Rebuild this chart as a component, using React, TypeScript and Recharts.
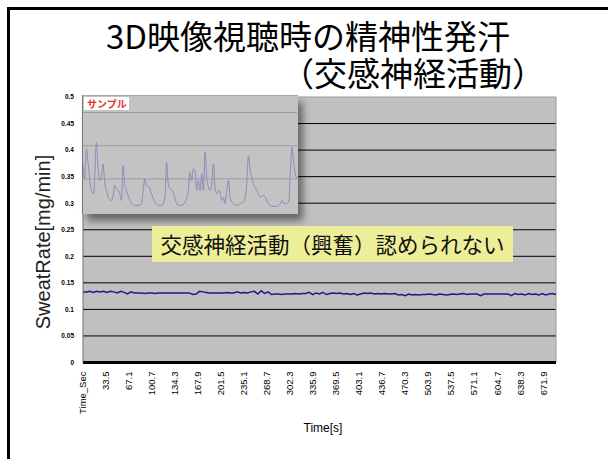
import { LineChart, Line, XAxis, YAxis, CartesianGrid, ReferenceLine } from 'recharts'

// main chart: sweat rate [mg/min] sampled every 5 s
const yTicks = [0, 0.05, 0.1, 0.15, 0.2, 0.25, 0.3, 0.35, 0.4, 0.45, 0.5]
const gridValues = [0.05, 0.1, 0.15, 0.2, 0.25, 0.3, 0.35, 0.4, 0.45]
const xTicks = [
  0, 33.5, 67.1, 100.7, 134.3, 167.9, 201.5, 235.1, 268.7, 302.3, 335.9,
  369.5, 403.1, 436.7, 470.3, 503.9, 537.5, 571.1, 604.7, 638.3, 671.9,
]
const sampleStep = 5
const sweatRate = [
  0.133, 0.133, 0.134, 0.132, 0.134, 0.133, 0.134, 0.132, 0.134, 0.133, 0.131, 0.134, 0.132, 0.129, 0.133,
  0.131, 0.131, 0.131, 0.13, 0.131, 0.131, 0.13, 0.131, 0.131, 0.131, 0.131, 0.131, 0.131, 0.131, 0.131, 0.131, 0.131,
  0.128, 0.129, 0.134, 0.133, 0.132,
  0.131, 0.131, 0.131, 0.131, 0.131, 0.132, 0.131, 0.131, 0.133, 0.131, 0.132, 0.131, 0.133,
  0.134, 0.129, 0.135, 0.13, 0.133, 0.128,
  0.129, 0.129, 0.128, 0.129, 0.129, 0.129, 0.13, 0.129, 0.13, 0.13,
  0.132, 0.128, 0.131, 0.129, 0.132, 0.128, 0.13, 0.131, 0.13, 0.131, 0.129, 0.13,
  0.128, 0.13, 0.127, 0.129, 0.131, 0.13, 0.131, 0.129, 0.13, 0.129, 0.13, 0.129, 0.129,
  0.13, 0.127, 0.128, 0.126, 0.129, 0.127,
  0.128, 0.127, 0.128, 0.128, 0.129, 0.128, 0.127, 0.129, 0.128, 0.127, 0.128, 0.129, 0.128, 0.129,
  0.13, 0.128, 0.129, 0.129, 0.129, 0.126, 0.129, 0.129, 0.129, 0.129, 0.129, 0.129, 0.129, 0.129,
  0.126, 0.13, 0.128, 0.129, 0.127, 0.13, 0.128, 0.129, 0.127, 0.13, 0.127, 0.129, 0.13, 0.128,
]

// inset "サンプル" trace
const insetTime = [
  0, 5, 10, 15, 20, 25, 32, 40, 45, 50, 55, 60, 65, 70, 78, 85, 90, 95, 100, 105,
  110, 115, 120, 125, 130, 138, 145, 155, 165, 175, 180, 185, 190, 198, 205, 215, 225, 235, 245, 250,
  255, 260, 268, 275, 285, 295, 305, 315, 320, 325, 330, 335, 340, 345, 350, 355, 360, 365, 370, 375,
  380, 385, 390, 395, 400, 408, 415, 420, 425, 430, 435, 440, 450, 460, 470, 480, 488, 495, 500, 505,
  510, 520, 530, 540, 545, 555, 565, 580, 590, 595, 600, 605, 615, 620, 625, 630, 635, 640,
]
const insetRate = [
  0.145, 0.1, 0.19, 0.15, 0.1, 0.065, 0.055, 0.21, 0.135, 0.095,
  0.105, 0.145, 0.09, 0.065, 0.04, 0.035, 0.05, 0.08, 0.07, 0.065,
  0.055, 0.035, 0.14, 0.08, 0.065, 0.04, 0.025, 0.02, 0.02, 0.025,
  0.065, 0.1, 0.08, 0.075, 0.055, 0.03, 0.02, 0.02, 0.045, 0.15,
  0.085, 0.07, 0.065, 0.04, 0.02, 0.02, 0.03, 0.065, 0.12, 0.095,
  0.13, 0.125, 0.065, 0.095, 0.065, 0.115, 0.065, 0.18, 0.105, 0.075,
  0.065, 0.085, 0.145, 0.075, 0.055, 0.065, 0.035, 0.045, 0.025, 0.065,
  0.095, 0.045, 0.025, 0.02, 0.025, 0.03, 0.065, 0.17, 0.125, 0.105,
  0.085, 0.065, 0.045, 0.05, 0.045, 0.025, 0.017, 0.017, 0.025, 0.035,
  0.025, 0.025, 0.03, 0.115, 0.195, 0.15, 0.115, 0.1,
]
const insetGrid = [0.05, 0.1, 0.15, 0.2, 0.25, 0.3]

const mainData = sweatRate.map((rate, i) => ({ t: i * sampleStep, rate }))
const insetData = insetTime.map((t, i) => ({ t, rate: insetRate[i] }))

const jp = '"Noto Sans CJK JP", sans-serif'

function TimeTick({ x, y, payload }: any) {
  const label = payload.value === 0 ? 'Time_Sec' : String(payload.value)
  const tx = x + 3
  const ty = y + 1
  return (
    <text
      x={tx}
      y={ty}
      transform={`rotate(-90 ${tx} ${ty})`}
      textAnchor="end"
      fontSize={9.5}
      fontFamily="Liberation Sans, Arial, sans-serif"
      fill="#000"
    >
      {label}
    </text>
  )
}

function SampleInset() {
  return (
    <div
      style={{
        position: 'absolute',
        left: 82,
        top: 95,
        width: 215,
        height: 118,
        background: '#c3c3c3',
        borderLeft: '1px solid #777',
        borderTop: '1px solid #aaa',
        boxShadow: '5px 7px 7px rgba(0,0,0,0.45)',
      }}
    >
      <LineChart width={214} height={117} data={insetData} margin={{ top: 0, right: 0, bottom: 1, left: 0 }}>
        <CartesianGrid vertical={false} horizontalValues={insetGrid} stroke="#9c9c9c" />
        <XAxis dataKey="t" type="number" domain={[0, 640]} hide />
        <YAxis domain={[0, 0.35]} hide />
        <Line
          type="monotone"
          dataKey="rate"
          stroke="#8c8cbc"
          strokeWidth={1}
          dot={false}
          isAnimationActive={false}
        />
      </LineChart>
      <div
        style={{
          position: 'absolute',
          left: 1,
          top: 1,
          width: 45,
          height: 13,
          background: '#fff',
          color: '#e83030',
          fontFamily: jp,
          fontWeight: 'bold',
          fontSize: 10,
          lineHeight: '13px',
          paddingLeft: 3,
          boxSizing: 'border-box',
        }}
      >
        サンプル
      </div>
    </div>
  )
}

export default function App() {
  return (
    <div
      style={{
        position: 'absolute',
        left: 0,
        top: 0,
        width: 608,
        height: 459,
        background: '#fff',
        overflow: 'hidden',
      }}
    >
      <div
        style={{
          position: 'absolute',
          left: 7,
          top: 7,
          width: 620,
          height: 470,
          borderTop: '3px solid #000',
          borderLeft: '3px solid #000',
        }}
      />
      <div
        style={{
          position: 'absolute',
          left: 106,
          top: 17,
          fontFamily: jp,
          fontSize: 33,
          lineHeight: '37px',
          whiteSpace: 'nowrap',
          color: '#000',
        }}
      >
        3D映像視聴時の精神性発汗
        <br />
        <span style={{ paddingLeft: 175 }}>（交感神経活動）</span>
      </div>

      <div style={{ position: 'absolute', left: 0, top: 0 }}>
        <LineChart width={608} height={459} data={mainData} margin={{ top: 97, right: 52, bottom: 0, left: 0 }}>
          <CartesianGrid vertical={false} horizontalValues={gridValues} stroke="#000" fill="#c0c0c0" fillOpacity={1} />
          <XAxis
            dataKey="t"
            type="number"
            domain={[0, 690]}
            ticks={xTicks}
            interval={0}
            height={96.5}
            tickLine={false}
            axisLine={{ stroke: '#000', strokeWidth: 3 }}
            tick={<TimeTick />}
          />
          <YAxis
            domain={[0, 0.5]}
            ticks={yTicks}
            interval={0}
            width={83}
            tickLine={false}
            tickSize={6}
            tickMargin={3}
            axisLine={{ stroke: '#707070' }}
            tickFormatter={(v: number) => String(v)}
            tick={{ fontSize: 6.5, fontWeight: 'bold', fill: '#000', fontFamily: 'Liberation Sans, Arial, sans-serif' }}
          />
          <ReferenceLine y={0.5} stroke="#9a9a9a" />
          <ReferenceLine x={690} stroke="#9a9a9a" />
          <Line
            type="linear"
            dataKey="rate"
            stroke="#1a1a8a"
            strokeWidth={1.5}
            dot={false}
            isAnimationActive={false}
          />
        </LineChart>
      </div>

      <SampleInset />

      <div
        style={{
          position: 'absolute',
          left: 152,
          top: 226,
          width: 361,
          height: 36,
          background: '#eeee98',
          fontFamily: jp,
          fontSize: 21.5,
          lineHeight: '36px',
          textAlign: 'center',
          color: '#111',
          whiteSpace: 'nowrap',
        }}
      >
        交感神経活動（興奮）認められない
      </div>

      <div
        style={{
          position: 'absolute',
          left: 43 - 110,
          top: 242 - 12,
          width: 220,
          height: 24,
          lineHeight: '24px',
          textAlign: 'center',
          transform: 'rotate(-90deg)',
          fontFamily: 'Liberation Sans, Arial, sans-serif',
          fontSize: 20,
          color: '#222',
          whiteSpace: 'nowrap',
        }}
      >
        SweatRate[mg/min]
      </div>
      <div
        style={{
          position: 'absolute',
          left: 323 - 40,
          top: 421,
          width: 80,
          textAlign: 'center',
          fontFamily: 'Liberation Sans, Arial, sans-serif',
          fontSize: 12,
          color: '#000',
        }}
      >
        Time[s]
      </div>
    </div>
  )
}
